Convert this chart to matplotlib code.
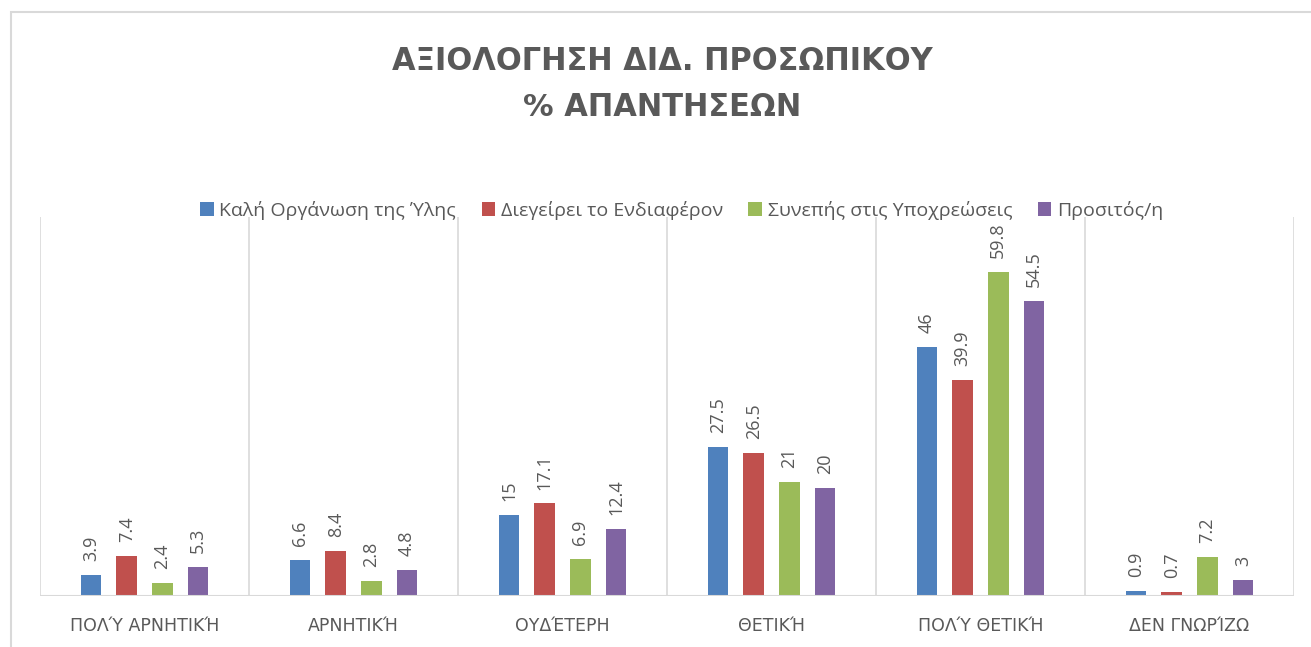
import matplotlib
matplotlib.use("Agg")
import matplotlib.pyplot as plt
import numpy as np
from matplotlib.patches import Rectangle

categories = ["ΠΟΛΎ ΑΡΝΗΤΙΚΉ", "ΑΡΝΗΤΙΚΉ", "ΟΥΔΈΤΕΡΗ", "ΘΕΤΙΚΉ", "ΠΟΛΎ ΘΕΤΙΚΉ", "ΔΕΝ ΓΝΩΡΊΖΩ"]
series_names = ["Καλή Οργάνωση της Ύλης", "Διεγείρει το Ενδιαφέρον", "Συνεπής στις Υποχρεώσεις", "Προσιτός/η"]
organosi = [3.9, 6.6, 15, 27.5, 46, 0.9]
endiaferon = [7.4, 8.4, 17.1, 26.5, 39.9, 0.7]
synepis = [2.4, 2.8, 6.9, 21, 59.8, 7.2]
prositos = [5.3, 4.8, 12.4, 20, 54.5, 3]
colors = ["#4F81BD", "#C0504D", "#9BBB59", "#8064A2"]
title_lines = ["ΑΞΙΟΛΟΓΗΣΗ ΔΙΔ. ΠΡΟΣΩΠΙΚΟΥ", "% ΑΠΑΝΤΗΣΕΩΝ"]

plt.rcParams['font.family'] = ['Open Sans', 'DejaVu Sans']

W, H = 1311, 647
fig = plt.figure(figsize=(W / 100, H / 100), dpi=100)
fig.patch.set_facecolor("white")

# chart border
fig.patches.append(Rectangle((11 / W, -0.1), 1.2, 1 - 12 / H + 0.1, transform=fig.transFigure,
                             fill=False, edgecolor="#D9D9D9", linewidth=1.5))

left, right, bottom, top = 40 / W, 1294 / W, 1 - 596 / H, 1 - 217 / H
ax = fig.add_axes([left, bottom, right - left, top - bottom])

data = [organosi, endiaferon, synepis, prositos]
n = len(categories)
x = np.arange(n)
bar_w = 0.098
offsets = [-0.256, -0.085, 0.085, 0.256]
for vals, off, c, name in zip(data, offsets, colors, series_names):
    bars = ax.bar(x + off, vals, width=bar_w, color=c, label=name, zorder=3)
    for b, v in zip(bars, vals):
        ax.annotate(f"{v:g}", (b.get_x() + b.get_width() / 2, v), xytext=(0, 10),
                    textcoords="offset points", rotation=90, ha="center", va="bottom",
                    fontsize=13, color="#595959")

ax.set_xlim(-0.5, n - 0.5)
ax.set_ylim(0, 70)
for b in np.arange(-0.5, n, 1.0):
    ax.axvline(b, color="#D9D9D9", linewidth=1.2, zorder=1)
ax.axhline(0, color="#D9D9D9", linewidth=1.5, zorder=4)
for s in ax.spines.values():
    s.set_visible(False)
ax.set_yticks([])
ax.set_xticks(x)
ax.set_xticklabels(categories, family=['DejaVu Sans'])
ax.tick_params(axis="x", length=0, pad=15, labelsize=12.5, labelcolor="#595959")

leg = fig.legend(loc="center", bbox_to_anchor=(0.52, 1 - 210 / H), ncol=4, frameon=False,
                 fontsize=14, handlelength=0.7, handleheight=0.7, handletextpad=0.3,
                 columnspacing=1.3, labelcolor="#595959")

fig.text(0.505, 1 - 62 / H, title_lines[0], ha="center", va="center", fontsize=22,
         fontweight="bold", color="#595959", family=['DejaVu Sans'])
fig.text(0.505, 1 - 107 / H, title_lines[1], ha="center", va="center", fontsize=22,
         fontweight="bold", color="#595959", family=['DejaVu Sans'])

fig.savefig("out.png", dpi=100)
